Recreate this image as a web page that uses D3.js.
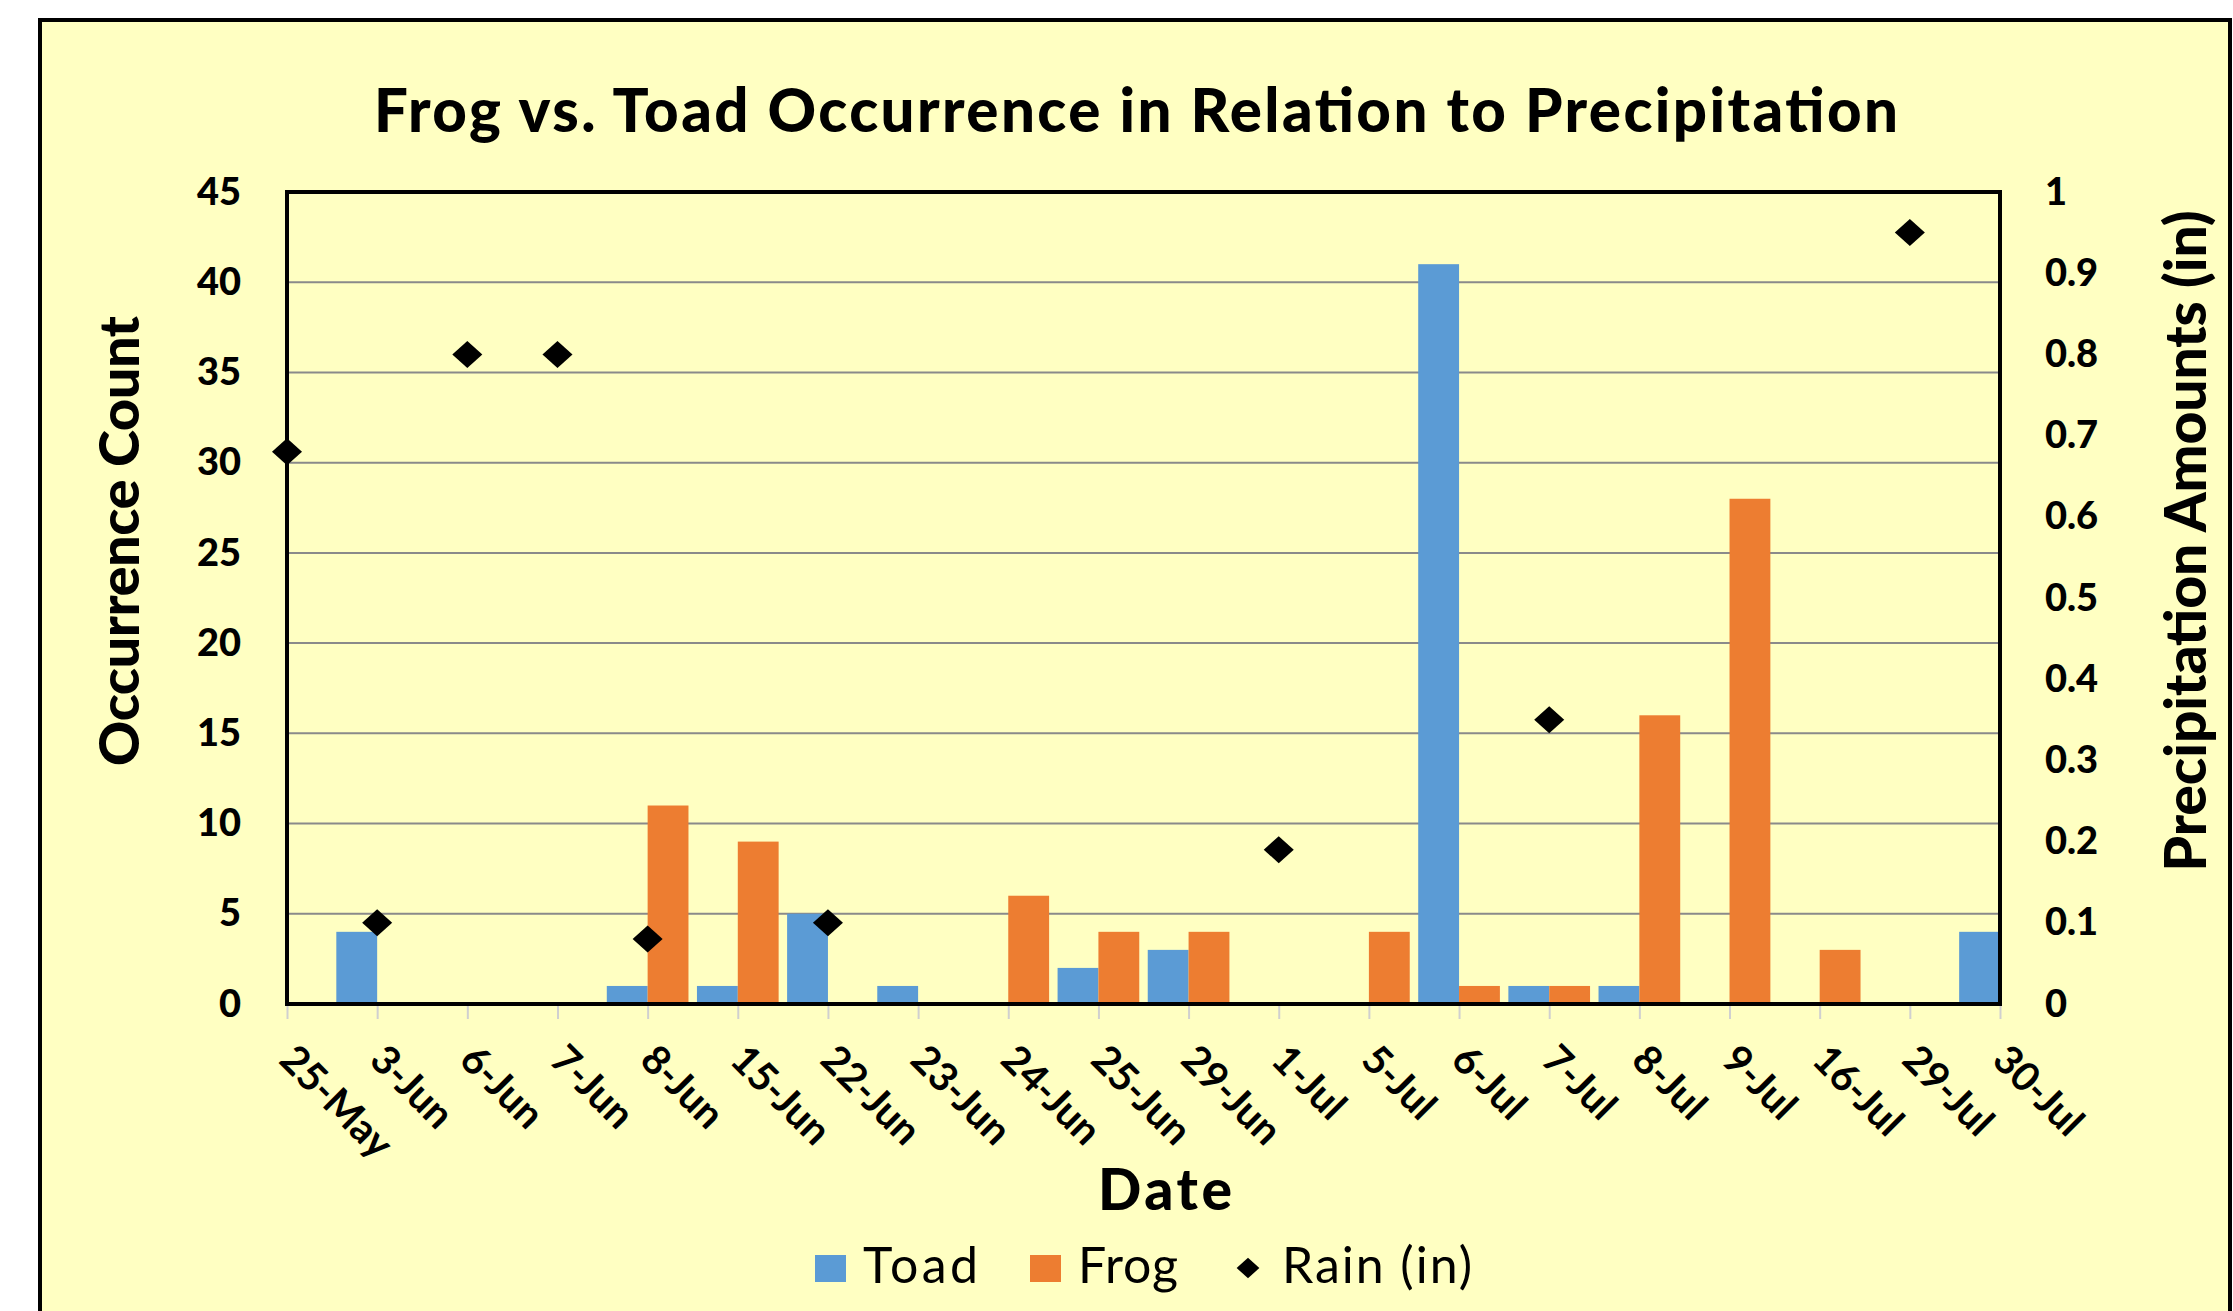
<!DOCTYPE html>
<html>
<head>
<meta charset="utf-8">
<script src="https://cdn.jsdelivr.net/npm/d3@7"></script>
<style>
body{margin:0;background:#fff;}
svg{display:block;font-family:Lato,"Open Sans",sans-serif;}
</style>
</head>
<body>
<svg id="chart" width="2233" height="1311"></svg>
<script>
// data
var dates = ["25-May","3-Jun","6-Jun","7-Jun","8-Jun","15-Jun","22-Jun","23-Jun","24-Jun","25-Jun",
             "29-Jun","1-Jul","5-Jul","6-Jul","7-Jul","8-Jul","9-Jul","16-Jul","29-Jul","30-Jul"];
var toad = [0,4,0,0,1,1,5,1,0,2,3,0,0,41,1,1,0,0,0,4];
var frog = [0,0,0,0,11,9,0,0,6,4,4,0,4,1,1,16,28,3,0,0];
var rain = [0.68,0.1,0.8,0.8,0.08,null,0.1,null,null,null,null,0.19,null,null,0.35,null,null,null,0.95,null];
var countTicks = [0,5,10,15,20,25,30,35,40,45];
var rainTicks = [0,0.1,0.2,0.3,0.4,0.5,0.6,0.7,0.8,0.9,1];
var seriesNames = ["Toad","Frog"];
var seriesColors = ["#5B9BD5","#ED7D31"];

var bg = "#FFFFC2";
var pL = 287, pR = 2000, pT = 192, pB = 1004;

var svg = d3.select("#chart");

// chart area with outer border
svg.append("rect")
  .attr("x",40).attr("y",20).attr("width",2190).attr("height",1400)
  .attr("fill",bg).attr("stroke","#000").attr("stroke-width",4);

var x = d3.scalePoint().domain(dates).range([pL,pR]);
var yL = d3.scaleLinear().domain([0,45]).range([pB,pT]);
var yR = d3.scaleLinear().domain([0,1]).range([pB,pT]);
var groupW = x.step()*0.906;
var sub = d3.scaleBand().domain(seriesNames).range([-groupW/2,groupW/2]);

// gridlines
svg.append("g").selectAll("line").data(countTicks.slice(1)).join("line")
  .attr("x1",pL).attr("x2",pR)
  .attr("y1",d=>yL(d)).attr("y2",d=>yL(d))
  .attr("stroke","#8a8a8a").attr("stroke-width",2);

// bars
svg.append("clipPath").attr("id","plotClip").append("rect")
  .attr("x",pL).attr("y",pT).attr("width",pR-pL).attr("height",pB-pT);

var barData = [];
dates.forEach(function(d,i){
  barData.push({date:d,s:"Toad",v:toad[i]});
  barData.push({date:d,s:"Frog",v:frog[i]});
});
svg.append("g").attr("clip-path","url(#plotClip)")
  .selectAll("rect").data(barData.filter(d=>d.v>0)).join("rect")
  .attr("x",d=>x(d.date)+sub(d.s))
  .attr("width",sub.bandwidth())
  .attr("y",d=>yL(d.v))
  .attr("height",d=>yL(0)-yL(d.v))
  .attr("fill",d=>seriesColors[seriesNames.indexOf(d.s)]);

// plot border
svg.append("rect")
  .attr("x",pL).attr("y",pT).attr("width",pR-pL).attr("height",pB-pT)
  .attr("fill","none").attr("stroke","#000").attr("stroke-width",4);

// axes
var axL = svg.append("g").attr("transform","translate("+pL+",0)")
  .call(d3.axisLeft(yL).tickValues(countTicks).tickSize(0).tickPadding(46));
var axR = svg.append("g").attr("transform","translate("+pR+",0)")
  .call(d3.axisRight(yR).tickValues(rainTicks).tickSize(0).tickPadding(45).tickFormat(d3.format("~g")));
[axL,axR].forEach(function(a){
  a.select(".domain").remove();
  a.selectAll("text").attr("font-size",38).attr("font-weight","900").attr("font-family","Lato").attr("fill","#000");
});

var axB = svg.append("g").attr("transform","translate(0,"+(pB+2)+")")
  .call(d3.axisBottom(x).tickSize(13));
axB.select(".domain").remove();
axB.selectAll("line").attr("stroke","#d0d0d0").attr("stroke-width",2);
axB.selectAll("text")
  .attr("x",0).attr("y",0).attr("dy",null)
  .attr("transform","translate(-10,56) rotate(45)")
  .attr("text-anchor","start")
  .attr("font-size",40).attr("font-weight","bold").attr("font-family","Lato").attr("fill","#000");

// rain markers
var diamond = d3.symbol().type(d3.symbolDiamond2).size(575);
svg.append("g").selectAll("path").data(dates.map((d,i)=>({date:d,v:rain[i]})).filter(d=>d.v!=null))
  .join("path")
  .attr("d",diamond)
  .attr("transform",d=>"translate("+x(d.date)+","+yR(d.v)+") scale(1,0.9)")
  .attr("fill","#000");

// titles
svg.append("text").attr("x",1136).attr("y",132)
  .attr("text-anchor","middle").attr("font-size",60).attr("font-weight","900")
  .attr("textLength",1524)
  .text("Frog vs. Toad Occurrence in Relation to Precipitation");

svg.append("text").attr("transform","translate(139,541) rotate(-90)")
  .attr("text-anchor","middle").attr("font-size",56).attr("font-weight","900")
  .attr("textLength",450)
  .text("Occurrence Count");

svg.append("text").attr("transform","translate(2206,541) rotate(-90)")
  .attr("text-anchor","middle").attr("font-size",57).attr("font-weight","900")
  .attr("textLength",661)
  .text("Precipitation Amounts (in)");

svg.append("text").attr("x",1165).attr("y",1210)
  .attr("text-anchor","middle").attr("font-size",57).attr("font-weight","900")
  .attr("textLength",134)
  .text("Date");

// legend
var lg = svg.append("g");
var legendX = [815,1030];
seriesNames.forEach(function(s,i){
  lg.append("rect").attr("x",legendX[i]).attr("y",1255).attr("width",31).attr("height",27)
    .attr("fill",seriesColors[i]);
  lg.append("text").attr("x",legendX[i]+48).attr("y",1283)
    .attr("font-size",50).attr("textLength",i===0?115:100).text(s);
});
lg.append("path").attr("d",d3.symbol().type(d3.symbolDiamond2).size(330))
  .attr("transform","translate(1248,1268) scale(1,0.9)").attr("fill","#000");
lg.append("text").attr("x",1282).attr("y",1283).attr("font-size",50).attr("textLength",190).text("Rain (in)");
</script>
</body>
</html>
